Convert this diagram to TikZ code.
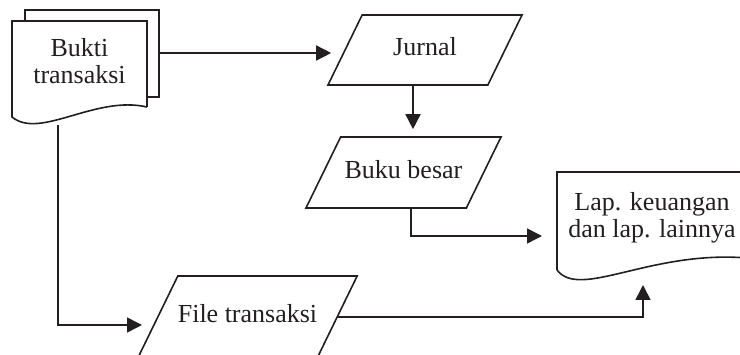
\documentclass[tikz,border=0pt]{standalone}
\usepackage{fontspec}
\setmainfont{Liberation Serif}
\usepackage{xcolor}
\usetikzlibrary{shapes.geometric,arrows.meta}

\definecolor{ink}{HTML}{231F20}

\begin{document}
\begin{tikzpicture}
  [
    x=1pt, y=-1pt,
    color=ink,
    line width=1.6pt,
    font=\fontsize{26}{27}\selectfont,
    flow/.style = {-{Triangle[length=15pt,width=15pt]}},
    io/.style   = {draw, trapezium, trapezium left angle=64, trapezium right angle=116,
                   trapezium stretches body, inner xsep=0pt,
                   text height=18pt, text depth=6pt},
    txt/.style  = {align=center},
  ]

%Page size of the figure
\useasboundingbox (0,0) rectangle (740,355);

%Bukti transaksi: two sheets, the front one with a wavy bottom
\draw (25,21) -- (25,10) -- (159,10) -- (159,97) -- (147,97);
\draw (147,107) -- (147,21) -- (12,21) -- (12,117) .. controls (40,140) and (95,95) .. (147,107);
\node[txt] (bukti) at (79.5,61) {Bukti\\transaksi};

%Laporan: one sheet, wavy bottom running past the edge
\draw (557,270) -- (557,172) -- (747,172) -- (747,258) .. controls (650,250) and (580,300) .. (557,270);
\node[txt] (lap) at (652,218) {Lap. keuangan\\dan lap. lainnya};

%Input/output boxes
\node[io, inner ysep=23pt,   minimum width=194pt] (jurnal) at (425,50)      {Jurnal};
\node[io, inner ysep=23.5pt, minimum width=195pt] (buku)   at (403.5,172.5) {Buku besar};
\node[io, inner ysep=29pt,   minimum width=211pt] (file)   at (247.5,317)   {File transaksi};

%Free ends of the connectors
\coordinate (bkR)    at (159,53);
\coordinate (bkB)    at (58,125);
\coordinate (fileIn) at (142,325);
\coordinate (lapW)   at (542,236);
\coordinate (lapS)   at (643,285);

%Connectors
\draw[flow, shorten >=13pt] (bkR) -- (bkR -| jurnal.west);
\draw[flow, shorten >=7pt] ([xshift=-12pt]jurnal.south) -- ([xshift=-12pt]jurnal.south |- buku.north);
\draw[flow] (bkB) |- (fileIn);
\draw[flow] ([xshift=7.5pt]buku.south) |- (lapW);
\draw[flow] (file.east) -| (lapS);
\end{tikzpicture}
\end{document}
